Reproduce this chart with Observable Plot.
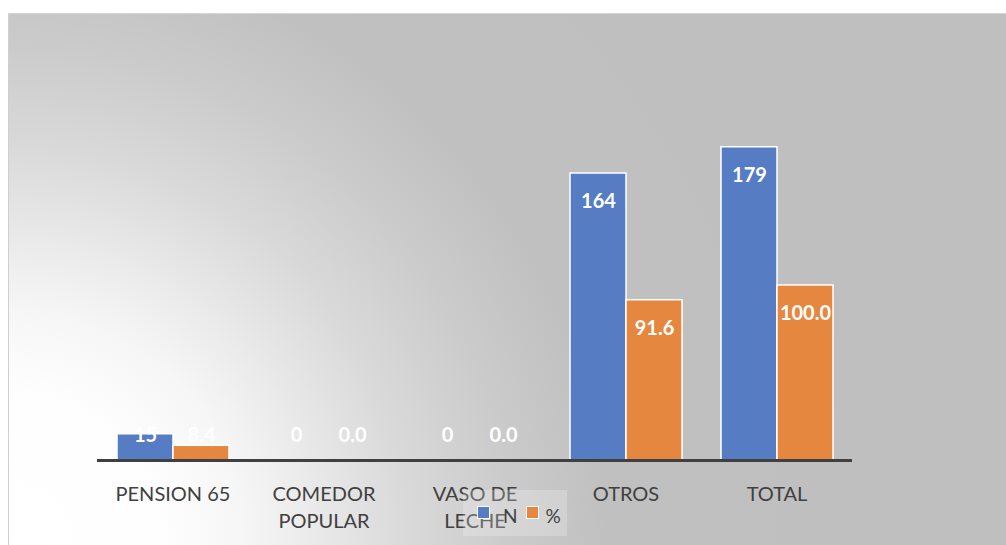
<!DOCTYPE html>
<html>
<head>
<meta charset="utf-8">
<script src="https://cdn.jsdelivr.net/npm/d3@7"></script>
<script src="https://cdn.jsdelivr.net/npm/@observablehq/plot@0.6"></script>
<style>
  html, body { margin: 0; padding: 0; background: #ffffff; }
  #wrap { position: relative; width: 1006px; height: 545px; overflow: hidden; font-family: Lato, "Open Sans", sans-serif; }
  #bg { position: absolute; left: 8px; top: 13px; width: 1010px; height: 540px;
        border-left: 1px solid #cfcfcf; border-top: 1px solid #d6d6d6;
        background: radial-gradient(circle at 0px 532px, #ffffff 0px, #fefefe 150px, #f6f6f6 235px, #eaeaea 305px, #d9d9d9 400px, #cbcbcb 500px, #c0c0c0 600px, #bebebe 1200px); }
  #chart { position: absolute; left: 0; top: 0; }
  #legend { position: absolute; left: 463px; top: 490px; width: 104px; height: 46px;
            background: rgba(255,255,255,0.22); display: flex; align-items: center; padding-left: 14px; padding-top: 4px; box-sizing: border-box;
            font-size: 19px; color: #404040; }
  .sw { display: inline-block; width: 11px; height: 11px; border: 1.5px solid #ffffff; margin-top: -6px; }
  .it { display: inline-flex; align-items: center; }
  .it:nth-child(1) .lbl { margin-left: 13px; margin-right: 8px; }
  .it:nth-child(2) .lbl { margin-left: 7px; }
</style>
</head>
<body>
<div id="wrap">
  <div id="bg"></div>
  <div id="chart"></div>
  <div id="legend"></div>
</div>
<script>
const categories = ["PENSION 65", "COMEDOR POPULAR", "VASO DE LECHE", "OTROS", "TOTAL"];
const tickLabels = ["PENSION 65", "COMEDOR\nPOPULAR", "VASO DE\nLECHE", "OTROS", "TOTAL"];
const seriesNames = ["N", "%"];
const valuesN = [15, 0, 0, 164, 179];
const valuesPct = [8.4, 0.0, 0.0, 91.6, 100.0];
const labelsN = ["15", "0", "0", "164", "179"];
const labelsPct = ["8.4", "0.0", "0.0", "91.6", "100.0"];
const seriesColors = ["#567dc4", "#e6873f"];

const rows = [];
categories.forEach((c, i) => {
  rows.push({cat: c, series: seriesNames[0], value: valuesN[i], label: labelsN[i]});
  rows.push({cat: c, series: seriesNames[1], value: valuesPct[i], label: labelsPct[i]});
});

const chart = Plot.plot({
  width: 1006,
  height: 545,
  marginLeft: 96,
  marginRight: 153,
  marginTop: 110,
  marginBottom: 85,
  style: {background: "transparent", fontFamily: "Lato, 'Open Sans', sans-serif", overflow: "visible"},
  fx: {domain: categories, padding: 0, label: null},
  x: {domain: seriesNames, paddingInner: 0, paddingOuter: 0.33, axis: null},
  y: {domain: [0, 200], axis: null},
  color: {domain: seriesNames, range: seriesColors},
  marks: [
    Plot.barY(rows, {fx: "cat", x: "series", y: "value", fill: "series", stroke: "#ffffff", strokeWidth: 1.5}),
    Plot.ruleY([0], {stroke: "#404040", strokeWidth: 3}),
    Plot.text(rows, {fx: "cat", x: "series", y: d => Math.max(d.value, 30), dy: 28, text: "label",
                     fill: "#ffffff", fontWeight: "bold", fontSize: 20}),
    Plot.axisFx({anchor: "bottom", tickSize: 0, tickPadding: 21, label: null,
                 tickFormat: c => tickLabels[categories.indexOf(c)],
                 fontSize: 20, lineHeight: 1.35, color: "#404040"})
  ]
});
document.getElementById("chart").appendChild(chart);

const legend = document.getElementById("legend");
seriesNames.forEach((s, i) => {
  const it = document.createElement("span");
  it.className = "it";
  const sw = document.createElement("span");
  sw.className = "sw";
  sw.style.background = seriesColors[i];
  it.appendChild(sw);
  const t = document.createElement("span");
  t.className = "lbl";
  t.textContent = s;
  it.appendChild(t);
  legend.appendChild(it);
});
</script>
</body>
</html>
